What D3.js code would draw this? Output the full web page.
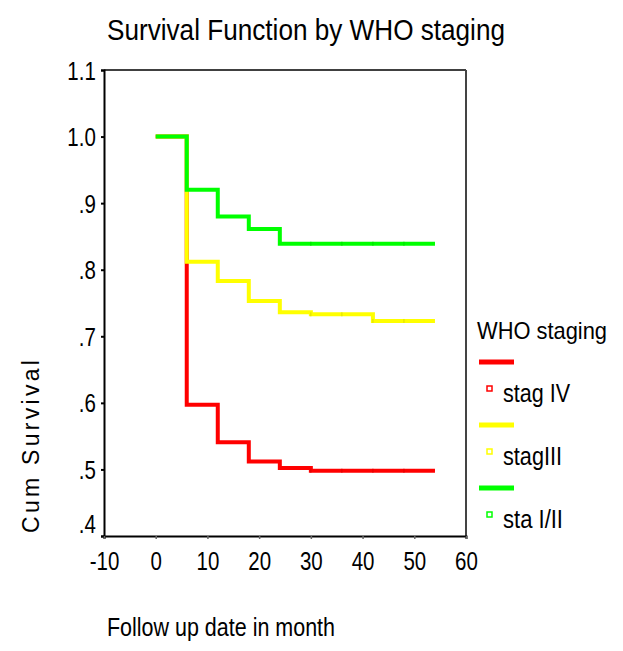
<!DOCTYPE html>
<meta charset="utf-8">
<script src="https://d3js.org/d3.v7.min.js"></script>
<style>
  body { margin: 0; background: #fff; }
  text { font-family: "Liberation Sans", Arial, sans-serif; fill: #000; }
</style>
<svg id="chart" width="623" height="651"></svg>
<script>
// data (months, cumulative survival)
var times = [0, 6, 12, 18, 24, 30, 42, 54];
var stagIV = [1.0, 0.597, 0.541, 0.512, 0.502, 0.498, 0.498, 0.498];
var stagIII = [1.0, 0.812, 0.783, 0.753, 0.736, 0.733, 0.723, 0.723];
var staI_II = [1.0, 0.92, 0.88, 0.861, 0.839, 0.839, 0.839, 0.839];
var censorTimes = [30, 36, 42, 48];

var xTicks = [-10, 0, 10, 20, 30, 40, 50, 60];
var yTicks = [0.4, 0.5, 0.6, 0.7, 0.8, 0.9, 1.0, 1.1];
var yTickLabels = [".4", ".5", ".6", ".7", ".8", ".9", "1.0", "1.1"];

var seriesNames = ["stag IV", "stagIII", "sta I/II"];
var seriesColors = ["#ff0000", "#ffff00", "#00ff00"];
var seriesValues = [stagIV, stagIII, staI_II];
var legendWidths = [67, 59, 60];

var svg = d3.select("#chart");

var x = d3.scaleLinear().domain([-10, 60]).range([104, 466]);
var y = d3.scaleLinear().domain([0.4, 1.1]).range([536, 70]);

// title
svg.append("text")
    .attr("x", 107).attr("y", 40)
    .attr("textLength", 398).attr("lengthAdjust", "spacingAndGlyphs")
    .style("font-size", "30px")
    .text("Survival Function by WHO staging");

// frame
svg.append("line").attr("x1", 104).attr("x2", 466).attr("y1", 70).attr("y2", 70)
    .attr("stroke", "#000").attr("stroke-width", 1.5);
svg.append("line").attr("x1", 466).attr("x2", 466).attr("y1", 70).attr("y2", 536)
    .attr("stroke", "#444").attr("stroke-width", 2);

// y axis
var yAxis = d3.axisLeft(y)
    .tickValues(yTicks)
    .tickSize(3)
    .tickPadding(7)
    .tickFormat(function (d, i) { return yTickLabels[i]; });
var gy = svg.append("g").attr("transform", "translate(104,0)").call(yAxis);
gy.select(".domain").attr("stroke", "#000").attr("stroke-width", 2);
gy.selectAll(".tick line").attr("stroke", "#000").attr("stroke-width", 2);
gy.selectAll(".tick text")
    .style("font-size", "25px").style("font-family", null)
    .attr("dy", function (d, i) { return i === 0 ? "-0.15em" : "0.36em"; })
    .attr("transform", "scale(0.82,1)");

// x axis
var xAxis = d3.axisBottom(x)
    .tickValues(xTicks)
    .tickSize(3)
    .tickPadding(13)
    .tickFormat(function (d) { return String(d); });
var gx = svg.append("g").attr("transform", "translate(0,536)").call(xAxis);
gx.select(".domain").attr("stroke", "#000").attr("stroke-width", 2);
gx.selectAll(".tick line").attr("stroke", "#666").attr("stroke-width", 1.5);
gx.selectAll(".tick text")
    .style("font-size", "25px").style("font-family", null)
    .attr("transform", "scale(0.82,1)");

// axis titles
svg.append("text")
    .attr("transform", "translate(39,533) rotate(-90)")
    .attr("textLength", 173).attr("lengthAdjust", "spacing")
    .style("font-size", "23px")
    .text("Cum Survival");

svg.append("text")
    .attr("x", 107).attr("y", 636)
    .attr("textLength", 228).attr("lengthAdjust", "spacingAndGlyphs")
    .style("font-size", "25px")
    .text("Follow up date in month");

// step curves (red under yellow under green)
var line = d3.line()
    .x(function (d, i) { return x(times[i]); })
    .y(function (d) { return y(d); })
    .curve(d3.curveStepAfter);

seriesValues.forEach(function (vals, k) {
    svg.append("path")
        .datum(vals)
        .attr("fill", "none")
        .attr("stroke", seriesColors[k])
        .attr("stroke-width", 4)
        .attr("d", line);

    // censor marks
    svg.append("g").selectAll("line")
        .data(censorTimes)
        .enter()
        .append("line")
        .attr("x1", function (d) { return x(d); })
        .attr("x2", function (d) { return x(d); })
        .attr("y1", function (d) { return y(vals[d3.bisectRight(times, d) - 1]) - 2; })
        .attr("y2", function (d) { return y(vals[d3.bisectRight(times, d) - 1]) + 2; })
        .attr("stroke", d3.color(seriesColors[k]).darker(0.4))
        .attr("stroke-width", 1);
});

// legend
svg.append("text")
    .attr("x", 477).attr("y", 339)
    .attr("textLength", 130).attr("lengthAdjust", "spacingAndGlyphs")
    .style("font-size", "24px")
    .text("WHO staging");

var legend = svg.append("g").selectAll("g")
    .data(seriesNames)
    .enter()
    .append("g")
    .attr("transform", function (d, i) { return "translate(0," + (i * 63) + ")"; });

legend.append("line")
    .attr("x1", 479).attr("x2", 514).attr("y1", 362).attr("y2", 362)
    .attr("stroke", function (d, i) { return seriesColors[i]; })
    .attr("stroke-width", 5);

legend.append("rect")
    .attr("x", 487).attr("y", 386).attr("width", 5).attr("height", 5)
    .attr("fill", "#fff")
    .attr("stroke", function (d, i) { return seriesColors[i]; })
    .attr("stroke-width", 1.5);

legend.append("text")
    .attr("x", 503).attr("y", 402)
    .attr("textLength", function (d, i) { return legendWidths[i]; })
    .attr("lengthAdjust", "spacingAndGlyphs")
    .style("font-size", "25px")
    .text(function (d) { return d; });
</script>
